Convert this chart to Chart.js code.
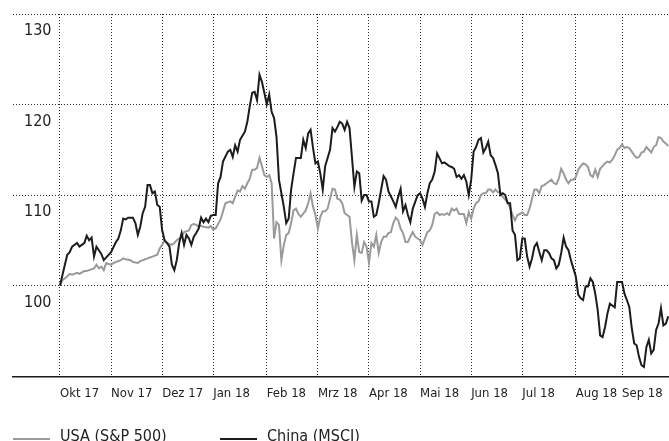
<!DOCTYPE html>
<html>
<head>
<meta charset="utf-8">
<script src="https://cdn.jsdelivr.net/npm/chart.js@4/dist/chart.umd.min.js"></script>
<style>
  html, body { margin: 0; padding: 0; background: #ffffff; overflow: hidden; }
  #wrap { width: 669px; height: 441px; }
</style>
</head>
<body>
<div id="wrap"><canvas id="c" width="669" height="441"></canvas></div>
<script>
// ---- data (x = trading-day index since start, y = index value, start = 100) ----
const monthTicks = [0, 21, 42, 63, 85, 106, 127, 148, 169, 190, 212, 231];
const monthLabels = ["Okt 17", "Nov 17", "Dez 17", "Jan 18", "Feb 18", "Mrz 18", "Apr 18", "Mai 18", "Jun 18", "Jul 18", "Aug 18", "Sep 18"];
const yTicks = [100, 110, 120, 130];
const seriesNames = ["USA (S&P 500)", "China (MSCI)"];

const usaDays = [0,1,3,4,5,7,8,10,11,12,14,15,16,17,18,19,21,22,23,25,26,27,29,30,32,33,34,36,37,38,40,41,42,43,44,46,47,48,50,51,53,54,55,56,57,58,59,61,62,63,64,66,67,68,70,71,72,73,74,75,76,77,78,79,80,81,82,83,84,85,86,87,88,89,90,91,92,93,94,95,96,97,98,99,101,102,103,104,105,106,107,108,109,110,112,113,114,115,116,117,118,119,120,121,122,123,124,125,126,127,128,129,130,131,132,133,134,135,136,137,138,139,140,141,142,143,144,145,146,147,148,149,150,151,152,153,154,155,156,157,158,159,160,161,162,163,164,166,167,168,169,170,171,172,173,174,175,176,177,178,179,180,181,182,183,184,185,186,187,188,189,190,191,192,193,194,195,196,197,198,199,200,201,202,203,204,205,206,207,208,209,210,211,212,213,214,215,216,217,218,219,220,221,222,223,224,225,226,227,228,229,230,231,232,233,234,235,236,237,238,239,240,241,242,243,244,245,246,247,248,249,250];
const usaValues = [100,100.6,101.0,101.3,101.2,101.4,101.3,101.6,101.6,101.7,101.9,102.3,101.9,102.1,101.7,102.5,102.3,102.5,102.6,102.8,103.0,102.9,102.8,102.6,102.5,102.7,102.8,103.0,103.1,103.2,103.4,104.1,104.5,105.0,104.7,104.5,104.7,105.0,105.4,105.9,106.1,106.7,106.8,106.7,106.5,106.6,106.5,106.4,106.6,106.2,106.3,107.3,108.2,109.1,109.3,109.1,109.8,110.5,110.4,111.0,110.7,111.3,111.8,112.8,112.8,113.0,114.1,113.2,112.2,112.0,112.2,111.3,105.2,107.0,106.7,102.8,104.5,105.6,105.8,106.9,108.3,108.5,107.9,107.6,108.3,109.1,110.2,108.7,107.8,106.3,107.6,108.2,108.2,108.5,110.7,110.6,109.6,109.5,109.1,108.0,107.8,107.6,104.8,102.8,105.6,103.7,103.6,104.8,104.3,102.5,104.7,104.3,105.6,103.6,104.8,105.4,105.4,105.8,105.9,106.9,107.5,107.2,106.3,105.8,104.8,104.8,105.4,105.9,105.4,105.2,105.0,104.5,105.2,105.9,106.1,106.7,107.9,108.1,107.8,107.9,107.8,108.0,107.8,108.5,108.3,108.5,107.9,107.9,106.9,108.1,107.4,108.5,109.1,109.3,110.0,110.2,110.2,110.6,110.6,110.3,110.6,110.3,110.3,109.8,109.5,109.2,108.6,107.8,107.2,107.8,107.9,108.1,107.8,107.8,108.5,109.6,110.6,110.6,110.2,111.0,111.1,111.3,111.5,111.7,111.3,111.2,111.8,112.9,112.4,111.7,111.3,111.7,111.7,112.0,112.8,113.2,113.5,113.4,113.1,112.2,112.0,112.8,112.0,112.9,113.2,113.5,113.7,113.6,113.9,114.4,115.0,115.2,115.6,115.2,115.3,115.2,114.8,114.4,114.1,114.2,114.7,114.8,115.3,115.0,114.7,115.3,115.5,116.4,116.3,115.9,115.7,115.4];

const chinaDays = [0,3,4,5,7,8,10,11,12,13,14,15,16,17,18,20,21,23,24,25,26,27,28,30,31,32,33,34,35,36,37,38,39,40,41,42,43,44,45,46,47,48,49,50,51,52,53,54,55,56,57,58,59,60,61,62,63,64,65,66,67,69,70,71,72,73,74,76,77,78,79,80,81,82,83,84,85,86,87,88,89,90,91,92,93,94,95,96,97,98,99,100,101,102,103,104,105,106,107,108,109,110,111,112,113,114,115,116,117,118,119,120,121,122,123,124,125,126,127,128,129,130,131,133,134,135,137,138,139,140,141,142,143,144,145,147,148,149,150,151,152,153,154,155,157,158,160,161,162,163,164,165,166,167,168,169,170,171,172,173,174,175,176,177,178,179,180,181,182,183,184,185,186,187,188,189,190,191,192,193,194,195,196,197,198,199,200,201,202,203,204,205,206,207,208,209,210,211,212,213,214,215,216,217,218,219,220,221,222,223,224,225,226,227,228,229,230,231,232,233,234,235,236,237,238,239,240,241,242,243,244,245,246,247,248,249,250];
const chinaValues = [100,103.4,103.7,104.3,104.7,104.3,104.7,105.5,105.0,105.3,103.2,104.3,103.9,103.5,102.8,103.4,103.7,104.8,105.2,106.1,107.4,107.3,107.5,107.5,106.9,105.6,106.5,108.0,108.7,111.1,111.1,110.2,110.4,108.9,108.7,106.1,105.0,104.7,104.3,102.3,101.7,102.8,104.7,105.8,104.5,105.6,105.2,104.5,105.4,105.8,106.3,107.5,107.0,107.4,107.0,107.7,107.8,107.8,111.3,112.0,113.7,114.8,115.0,114.2,115.5,114.8,116.1,117.0,118.1,119.8,121.3,121.4,120.5,123.3,122.5,121.3,120.0,121.1,119.2,118.5,116.4,111.7,110.2,108.7,106.9,107.4,110.6,112.4,114.1,114.1,114.1,116.1,115.2,116.8,117.2,115.2,113.5,113.7,112.4,110.6,113.2,114.1,115.0,117.4,117.0,117.5,118.1,117.9,117.2,118.1,117.4,114.2,110.9,112.6,112.4,109.4,110.0,110.0,109.3,109.3,107.6,107.8,109.1,112.1,111.7,110.4,109.3,108.7,109.8,110.7,108.2,108.9,107.8,107.0,108.5,110.0,110.2,109.6,108.7,110.2,111.3,111.7,112.6,114.6,113.5,113.6,113.2,113.1,112.9,112.0,112.2,111.8,112.2,111.5,110.0,111.7,114.8,115.3,116.1,116.3,114.7,115.2,115.9,114.4,114.1,113.3,112.4,110.0,110.2,110.0,109.1,109.1,106.1,105.6,102.8,103.0,105.2,105.2,103.2,102.1,103.0,104.3,104.7,103.7,102.8,103.9,103.9,103.6,103.0,102.8,101.9,102.3,103.6,105.3,104.3,103.9,102.8,101.9,101.0,99.0,98.6,98.4,99.9,99.9,100.8,100.4,99.1,97.3,94.5,94.3,95.4,96.9,98.0,97.8,97.6,100.4,100.4,100.4,99.1,98.4,97.6,95.3,93.6,93.4,92.1,91.2,91.0,93.2,94.0,92.5,92.9,95.1,95.8,97.5,95.6,95.8,96.6];

// ---- styles ----
const FONT = "'DejaVu Sans Condensed', 'Liberation Sans Narrow', sans-serif";
const TEXT = '#222222';
const GRID = '#2a2a2a';
const colors = ['#9a9a9a', '#1c1c1c'];

const toPoints = (xs, ys) => xs.map((x, i) => ({ x: x, y: ys[i] }));

const bottomLegend = {
  id: 'bottomLegend',
  afterDraw(chart) {
    const ctx = chart.ctx;
    const starts = [13, 220];
    ctx.save();
    chart.data.datasets.forEach((ds, i) => {
      const x0 = starts[i];
      ctx.strokeStyle = ds.borderColor;
      ctx.lineWidth = 2;
      ctx.beginPath();
      ctx.moveTo(x0, 439);
      ctx.lineTo(x0 + 37, 439);
      ctx.stroke();
      ctx.fillStyle = TEXT;
      ctx.font = "16px " + FONT;
      ctx.textBaseline = 'alphabetic';
      ctx.textAlign = 'left';
      ctx.fillText(ds.label, x0 + 47, 441);
    });
    ctx.restore();
  }
};

new Chart(document.getElementById('c'), {
  type: 'line',
  data: {
    datasets: [
      { label: seriesNames[0], data: toPoints(usaDays, usaValues), borderColor: colors[0], borderWidth: 2, pointRadius: 0, tension: 0, order: 1 },
      { label: seriesNames[1], data: toPoints(chinaDays, chinaValues), borderColor: colors[1], borderWidth: 2, pointRadius: 0, tension: 0, order: 0 }
    ]
  },
  options: {
    responsive: false,
    animation: false,
    devicePixelRatio: 1,
    layout: { padding: { top: 14, right: 0, bottom: 0, left: 0 } },
    plugins: { legend: { display: false }, tooltip: { enabled: false } },
    scales: {
      x: {
        type: 'linear',
        min: -19.3,
        max: 250.3,
        afterFit: (s) => { s.height = 64; s.paddingLeft = 0; s.paddingRight = 0; },
        afterBuildTicks: (s) => { s.ticks = monthTicks.map(v => ({ value: v })); },
        grid: { color: GRID, lineWidth: 1, drawTicks: false },
        border: { display: true, color: '#1a1a1a', width: 1.5, dash: [1, 2] },
        ticks: {
          autoSkip: false, maxRotation: 0, align: 'start', padding: 9,
          color: TEXT, font: { family: FONT, size: 13 },
          callback: (v, i) => monthLabels[i]
        }
      },
      y: {
        min: 89.9,
        max: 130,
        afterFit: (s) => { s.width = 13; s.paddingTop = 0; s.paddingBottom = 0; },
        afterBuildTicks: (s) => { s.ticks = yTicks.map(v => ({ value: v })); },
        grid: { color: GRID, lineWidth: 1, drawTicks: false },
        border: { display: false, dash: [1, 2] },
        ticks: {
          mirror: true, padding: 11, labelOffset: 17,
          color: TEXT, font: { family: FONT, size: 16 },
          callback: (v) => String(v)
        }
      }
    }
  },
  plugins: [bottomLegend]
});
</script>
</body>
</html>
